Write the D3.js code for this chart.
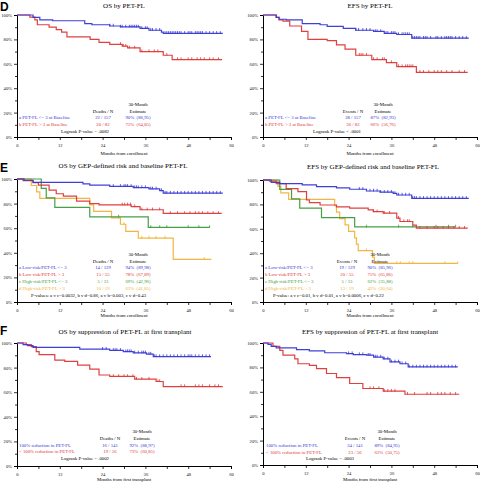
<!DOCTYPE html>
<html><head><meta charset="utf-8">
<script src="https://cdn.jsdelivr.net/npm/d3@7"></script>
<style>
html,body{margin:0;padding:0;background:#fff;}
svg text{font-family:"Liberation Serif","Times New Roman",serif;}
</style></head>
<body><svg id="c" width="481" height="482"></svg>
<script>
// ---------- data (steps: [month, survival %]) ----------
const xTicksMajor = [0, 12, 24, 36, 48, 60];
const xTicksMinor = [6, 18, 30, 42, 54];
const yTicksMajor = [0, 20, 40, 60, 80, 100];
const yTicksMinor = [10, 30, 50, 70, 90];

const osPetBlue = [[4.5,98],[6.4,96],[10,95.3],[19,93],[21,92],[26,91],[29,90.2],[34.5,89],[37,87.5],[40.5,86],[41,85]];
const osPetBlueEnd = 57.7;
const osPetBlueCens = [26,27,29,29.5,30.5,31.5,32,32.5,33,33.5,34,35,36,36.5,37.5,38,39,40,41.5,42,42.5,43,43.5,44,44.5,45,45.5,46,47,48,48.5,49,50,50.5,51,51.5,52,53,54,55,56,57];
const osPetRed = [[3.6,98.2],[5,96],[5.7,92],[9,90],[11,88],[12.5,86],[14,82],[20.5,80],[23,77.5],[26,76],[29.5,74.5],[31,73],[34.5,70],[41,67],[43.5,63.5]];
const osPetRedEnd = 57.5;
const osPetRedCens = [29,29.8,30.5,31.5,33,35,37,38.5,39.5,42,45,46,48,49,50.5,51.5,52.5,54,55,56.5];

const efsPetBlue = [[3.7,98],[4.5,96.5],[6.5,96],[11,93],[16,92],[18,90.7],[22.5,89],[26,87.5],[31,86.5],[34,85],[37.5,84],[41.7,81]];
const efsPetBlueEnd = 57.7;
const efsPetBlueCens = [26,26.8,28,29,30,31.5,32,33,34.5,35,36,36.5,37,38,39,39.5,40,40.5,41,42,42.5,43,43.5,44,45,45.5,46,47,48.5,49,50,51,51.5,52,52.5,53,54,55,56,57];
const efsPetRed = [[3.7,98],[4.5,96],[5.6,95],[7.5,91],[10.8,86.5],[12.6,80],[18,79],[20.6,75.5],[23,72],[26,67],[30.5,63.5],[34.6,61],[37.5,57.7],[43,53]];
const efsPetRedEnd = 57.4;
const efsPetRedCens = [27,27.5,28,29,31,32,33.5,34,36,38,39,40,40.5,41,41.5,42,44,45,46.5,48,49,50,51.5,53,55,56.5];

const osGepA = [[2,99],[4.5,97.3],[18.5,96],[20.4,95],[26,94],[32.6,93],[37,92],[40,90.5],[41,88.5]];
const osGepAEnd = 57.7;
const osGepACens = [27,29,30,30.5,31,32,33,33.5,34,35,36,37.5,38,39,40.5,41.5,42,43,44,45,46,47,48,49,50,51,52,53,54,55,56,57];
const osGepB = [[1.7,98.6],[4.5,97],[6,95],[9,91],[11,88],[13,86],[16.7,82],[20.4,80],[23,79],[32,77.5],[34.5,75],[41,72]];
const osGepBEnd = 57.4;
const osGepBCens = [29.5,30.2,31,31.8,33,35,36.5,38,40,43,45,47,48.5,50,51,52,53.5,55,56.5];
const osGepC = [[6.8,92.3],[8.2,84.6],[10.6,76.9],[20.4,69.2],[36.8,60.6]];
const osGepCEnd = 54;
const osGepCCens = [28.5,37.5,40,42,48,51,54];
const osGepD = [[4,94.7],[5.5,89.5],[6.4,84.2],[20.4,78.9],[21.5,73.7],[26.5,68.4],[29,63.2],[30.5,57.5],[34,52],[43.8,34.7]];
const osGepDEnd = 54.5;
const osGepDCens = [30,35,37,39,41.5,52.5];

const efsGepA = [[2.3,98],[4.7,97],[11,96],[15,94.5],[20.6,93.5],[24.3,92.4],[29,91],[32.8,90],[36.5,89],[37.5,87.7],[41.7,85]];
const efsGepAEnd = 57.7;
const efsGepACens = [27,28,30,31,32,33,34,35,36,37,38,39,40,41,42,42.5,43,44,45,46,47,48,49,50,51,52,53,54,55,56,57];
const efsGepB = [[1.8,99],[3.7,97],[6.5,93],[9.8,90.5],[12.2,83.6],[13,81.5],[16,79.5],[20.6,78],[24.3,77],[29.5,75.5],[30.9,74],[33.7,72.8],[37.5,68.7],[38.4,66],[42,63],[43,60.5]];
const efsGepBEnd = 57.4;
const efsGepBCens = [31,32,34,35.5,38,39.5,40.5,41,44,46,48,49,50.5,52,53.5,55,56.5];
const efsGepC = [[4.7,92.3],[8,84.6],[10.3,76.9],[16.4,69.2],[25.7,61.5]];
const efsGepCEnd = 54;
const efsGepCCens = [29,38,42,48.5,52,54];
const efsGepD = [[4.2,94.7],[5,89.5],[7.2,84.2],[20.1,78.9],[20.6,73.7],[21.5,68.4],[23,63.2],[24,57.9],[25.7,52.6],[26.2,47.4],[26.7,42.1],[30.7,36.8],[31.2,31.6]];
const efsGepDEnd = 54.6;
const efsGepDCens = [29,37.5,38.5,41,42,51,54.6];

const osSupBlue = [[1.7,98.6],[3,97.8],[4.5,96.5],[17.6,95],[26,94],[29.8,93],[32.6,92],[36.3,91],[38.2,89]];
const osSupBlueEnd = 54.4;
const osSupBlueCens = [24,25,27,27.5,28,29,30.5,31,31.5,32,33,34,35,35.5,36,37,37.5,38.5,39,40,41,42,43,44,45,46,47,48,48.5,49,50,51,52,53,54];
const osSupRed = [[2.6,98.6],[4,97],[5.4,93],[6.2,90.5],[10.6,86],[13.4,85],[17,82],[20.4,78.7],[23,74],[26,72.8],[33,70.6],[39,68.7],[41,64.6]];
const osSupRedEnd = 57.7;
const osSupRedCens = [27,28.5,30,31,32.5,33.5,35,37,39.5,40,46,47,50,51,52,54,55.5,56.5];

const efsSupBlue = [[1.4,98.9],[2.3,97.3],[3.7,96],[9.4,94.5],[13,93.5],[17.3,92],[23.4,91.3],[25.3,90.5],[29,90],[31,88.5],[33.7,87],[35.6,84.5],[38.4,83],[40.7,80.4]];
const efsSupBlueEnd = 54.6;
const efsSupBlueCens = [24,25,27,28,29.5,30,31.5,32,33,34,35,36,37,38,39,40,41,42,43,44,45,46,47,48,49,50,51,52,53,54];
const efsSupRed = [[2.8,97.3],[4.7,94],[5.6,90],[8.9,87],[9.8,83],[13,81.7],[15,79],[17.8,75],[20.6,71.7],[24.3,66.8],[28,62.7],[33.7,60.5],[39.8,58]];
const efsSupRedEnd = 55;
const efsSupRedCens = [30,31,32.5,34,35,36,37,40.5,42.5,46,47,49,50,51,52.5,54];

// legend text
const legPet = ["a PET-FL <= 3 at Baseline", "b PET-FL > 3 at Baseline"];
const legGep = ["a Low-risk/PET-FL <= 3", "b Low-risk/PET-FL > 3", "c High-risk/PET-FL <= 3", "d High-risk/PET-FL > 3"];
const legSup = ["100% reduction in PET-FL", "< 100% reduction in PET-FL"];
const nOsPet = ["22 / 157", "20 / 82"], estOsPet = ["90%  (86,95)", "75%  (64,85)"];
const nEfsPet = ["28 / 157", "36 / 82"], estEfsPet = ["87%  (82,93)", "66%  (56,76)"];
const nOsGep = ["14 / 129", "15 / 55", "5 / 13", "10 / 19"], estOsGep = ["94%  (89,98)", "78%  (67,89)", "69%  (42,96)", "63%  (41,85)"];
const nEfsGep = ["19 / 129", "20 / 55", "5 / 13", "13 / 19"], estEfsGep = ["90%  (85,96)", "75%  (65,86)", "62%  (35,88)", "42%  (20,64)"];
const nOsSup = ["16 / 141", "19 / 56"], estOsSup = ["92%  (88,97)", "73%  (60,85)"];
const nEfsSup = ["24 / 141", "23 / 56"], estEfsSup = ["89%  (84,95)", "63%  (50,75)"];

const BLUE = "#3636d4", RED = "#dd3636", GREEN = "#3d9a3d", ORANGE = "#f2b23a";

const panels = [
 {L:17,R:231,T:15,B:137, title:"OS by PET-FL", tx:124, ty:8, letter:"D", ly:11,
  xlab:"Months from enrollment", xly:155, tly:147,
  series:[[osPetBlue,osPetBlueEnd,osPetBlueCens,BLUE],[osPetRed,osPetRedEnd,osPetRedCens,RED]],
  leg:legPet, n:nOsPet, est:estOsPet, nHead:"Deaths / N", lx:19, nx:103, ex:138, ry:[119,126], hy:[106,113],
  foot:"Logrank P-value = .0082", fx:85, fy:133, fAnchor:"middle"},
 {L:263,R:477,T:15,B:137, title:"EFS by PET-FL", tx:370, ty:8,
  xlab:"Months from enrollment", xly:155, tly:147,
  series:[[efsPetBlue,efsPetBlueEnd,efsPetBlueCens,BLUE],[efsPetRed,efsPetRedEnd,efsPetRedCens,RED]],
  leg:legPet, n:nEfsPet, est:estEfsPet, nHead:"Events / N", lx:265, nx:353, ex:383, ry:[119,126], hy:[106,113],
  foot:"Logrank P-value < .0001", fx:337, fy:133, fAnchor:"middle"},
 {L:17,R:231,T:179,B:302, title:"OS by GEP-defined risk and baseline PET-FL", tx:123, ty:168, letter:"E", ly:172,
  xlab:"Months from enrollment", xly:317, tly:311,
  series:[[osGepA,osGepAEnd,osGepACens,BLUE],[osGepB,osGepBEnd,osGepBCens,RED],[osGepC,osGepCEnd,osGepCCens,GREEN],[osGepD,osGepDEnd,osGepDCens,ORANGE]],
  leg:legGep, n:nOsGep, est:estOsGep, nHead:"Deaths / N", lx:19, nx:103, ex:138, ry:[269,276,283,290], hy:[256,263],
  foot:"P-values: a v c=0.0032, b v d=0.86, a v b=0.003, c v d=0.43", fx:31, fy:297, fAnchor:"start"},
 {L:263,R:477,T:180,B:302, title:"EFS by GEP-defined risk and baseline PET-FL", tx:373, ty:169,
  xlab:"Months from enrollment", xly:317, tly:311,
  series:[[efsGepA,efsGepAEnd,efsGepACens,BLUE],[efsGepB,efsGepBEnd,efsGepBCens,RED],[efsGepC,efsGepCEnd,efsGepCCens,GREEN],[efsGepD,efsGepDEnd,efsGepDCens,ORANGE]],
  leg:legGep, n:nEfsGep, est:estEfsGep, nHead:"Events / N", lx:265, nx:347, ex:380, ry:[269,276,283,290], hy:[256,263],
  foot:"P-value: a v c=0.01, b v d=0.01, a v b=0.0006, c v d=0.22", fx:273, fy:297, fAnchor:"start"},
 {L:17,R:231,T:343,B:466, title:"OS by suppression of PET-FL at first transplant", tx:125, ty:334, letter:"F", ly:335,
  xlab:"Months from first transplant", xly:481, tly:475,
  series:[[osSupBlue,osSupBlueEnd,osSupBlueCens,BLUE],[osSupRed,osSupRedEnd,osSupRedCens,RED]],
  leg:legSup, n:nOsSup, est:estOsSup, nHead:"Deaths / N", lx:19, nx:110, ex:142, ry:[447,453], hy:[433,440],
  foot:"Logrank P-value = .0002", fx:85, fy:460, fAnchor:"middle"},
 {L:263,R:477,T:343,B:465, title:"EFS by suppression of PET-FL at first transplant", tx:370, ty:334,
  xlab:"Months from first transplant", xly:481, tly:475,
  series:[[efsSupBlue,efsSupBlueEnd,efsSupBlueCens,BLUE],[efsSupRed,efsSupRedEnd,efsSupRedCens,RED]],
  leg:legSup, n:nEfsSup, est:estEfsSup, nHead:"Events / N", lx:266, nx:355, ex:387, ry:[447,454], hy:[433,440],
  foot:"Logrank P-value = .0003", fx:330, fy:460, fAnchor:"middle"}
];

const svg = d3.select("#c");

function survAt(steps, t){
  let s = 100;
  for (const [tt, v] of steps){ if (tt <= t) s = v; else break; }
  return s;
}

panels.forEach(p => {
  const g = svg.append("g");
  const x = d3.scaleLinear().domain([0,60]).range([p.L,p.R]);
  const y = d3.scaleLinear().domain([0,100]).range([p.B,p.T]);

  // title
  g.append("text").attr("x",p.tx).attr("y",p.ty).attr("text-anchor","middle")
    .attr("font-size",7).text(p.title);
  if (p.letter) g.append("text").attr("x",0).attr("y",p.ly)
    .attr("font-weight","bold").attr("font-size",12)
    .style("font-family","Liberation Sans, Arial, sans-serif").text(p.letter);

  // y axis
  g.append("g").attr("transform",`translate(${p.L},0)`)
    .call(d3.axisLeft(y).tickValues(yTicksMajor).tickFormat(d=>d+"%").tickSize(3).tickPadding(2));
  g.append("g").attr("transform",`translate(${p.L},0)`)
    .call(d3.axisLeft(y).tickValues(yTicksMinor).tickFormat("").tickSize(2))
    .select(".domain").remove();
  // x axis
  g.append("g").attr("transform",`translate(0,${p.B})`)
    .call(d3.axisBottom(x).tickValues(xTicksMajor).tickFormat(d3.format("d")).tickSize(3).tickPadding(4));
  g.append("g").attr("transform",`translate(0,${p.B})`)
    .call(d3.axisBottom(x).tickValues(xTicksMinor).tickFormat("").tickSize(3))
    .select(".domain").remove();
  g.selectAll(".domain").attr("stroke","#000").attr("stroke-width",1);
  g.selectAll(".tick line").attr("stroke","#000").attr("stroke-width",0.8);
  g.selectAll(".tick text").attr("font-size",4.6).attr("font-family","Liberation Serif, serif").attr("fill","#111");

  g.append("text").attr("x",(p.L+p.R)/2).attr("y",p.xly).attr("text-anchor","middle")
    .attr("font-size",4.8).text(p.xlab);

  // curves
  const line = d3.line().x(d=>x(d[0])).y(d=>y(d[1])).curve(d3.curveStepAfter);
  p.series.slice().reverse().forEach(([steps,end,cens,col]) => {
    const last = steps[steps.length-1][1];
    const pts = [[0,100], ...steps, [end,last]];
    g.append("path").datum(pts).attr("d",line).attr("fill","none")
      .attr("stroke",col).attr("stroke-width",1.2).attr("stroke-opacity",0.95);
    g.selectAll(null).data(cens).enter().append("line")
      .attr("x1",d=>x(d)).attr("x2",d=>x(d))
      .attr("y1",d=>y(survAt(steps,d))-2.2).attr("y2",d=>y(survAt(steps,d))+0.5)
      .attr("stroke",col).attr("stroke-width",0.8);
  });

  // legend
  const cols = p.series.map(s=>s[3]);
  g.append("text").attr("x",p.ex).attr("y",p.hy[0]).attr("text-anchor","middle").attr("font-size",4.8).text("30-Month");
  g.append("text").attr("x",p.nx).attr("y",p.hy[1]).attr("text-anchor","middle").attr("font-size",4.8).text(p.nHead);
  g.append("text").attr("x",p.ex).attr("y",p.hy[1]).attr("text-anchor","middle").attr("font-size",4.8).text("Estimate");
  p.leg.forEach((t,i) => {
    g.append("text").attr("x",p.lx).attr("y",p.ry[i]).attr("font-size",4.8).attr("fill",cols[i]).text(t);
    g.append("text").attr("x",p.nx).attr("y",p.ry[i]).attr("text-anchor","middle").attr("font-size",4.8).attr("fill",cols[i]).text(p.n[i]);
    g.append("text").attr("x",p.ex).attr("y",p.ry[i]).attr("text-anchor","middle").attr("font-size",4.8).attr("fill",cols[i])
      .attr("xml:space","preserve").style("white-space","pre").text(p.est[i]);
  });
  g.append("text").attr("x",p.fx).attr("y",p.fy).attr("text-anchor",p.fAnchor).attr("font-size",4.8).text(p.foot);
});
</script></body></html>
